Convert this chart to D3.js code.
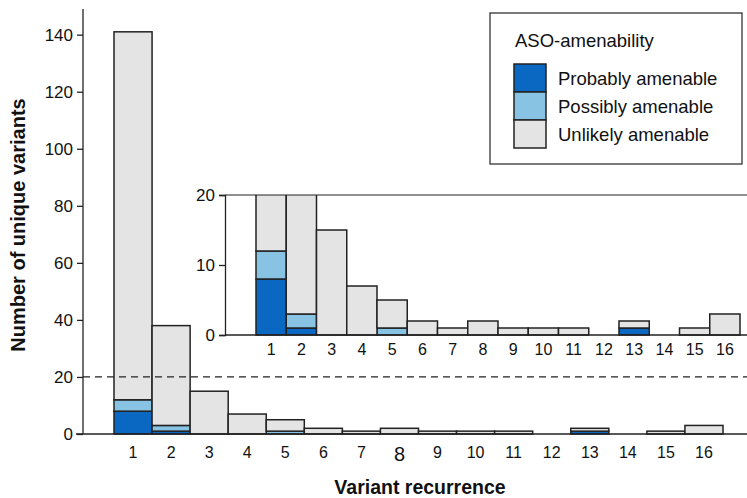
<!DOCTYPE html>
<html>
<head>
<meta charset="utf-8">
<script src="https://cdn.jsdelivr.net/npm/d3@7"></script>
<style>
  body { margin: 0; background: #fff; }
  svg { font-family: "Liberation Sans", Arial, sans-serif; }
</style>
</head>
<body>
<svg width="747" height="498"></svg>
<script>
const svg = d3.select("svg");

// data
const recurrence = d3.range(1, 17);
const probably = [8, 1, 0, 0, 0, 0, 0, 0, 0, 0, 0, 0, 1, 0, 0, 0];
const possibly = [4, 2, 0, 0, 1, 0, 0, 0, 0, 0, 0, 0, 0, 0, 0, 0];
const unlikely = [129, 35, 15, 7, 4, 2, 1, 2, 1, 1, 1, 0, 1, 0, 1, 3];
const mainTicks = [0, 20, 40, 60, 80, 100, 120, 140];
const insetTicks = [0, 10, 20];
const keys = ["probably", "possibly", "unlikely"];
const legendLabels = ["Probably amenable", "Possibly amenable", "Unlikely amenable"];

const color = d3.scaleOrdinal()
    .domain(keys)
    .range(["#0a68c2", "#88c3e3", "#e4e4e4"]);

const rows = recurrence.map((r, i) => ({
    r: r, probably: probably[i], possibly: possibly[i], unlikely: unlikely[i]
}));
const series = d3.stack().keys(keys)(rows);

// main chart
const x = d3.scaleBand().domain(recurrence).range([114, 723]).padding(0);
const y = d3.scaleLinear().domain([0, 149]).range([434, 9]);

const main = svg.append("g");
main.selectAll("g.layer")
    .data(series).enter().append("g")
    .attr("class", "layer")
    .attr("fill", d => color(d.key))
    .selectAll("rect")
    .data(d => d.filter(s => s[1] - s[0] > 0)).enter().append("rect")
    .attr("x", d => x(d.data.r))
    .attr("width", x.bandwidth())
    .attr("y", d => y(d[1]))
    .attr("height", d => y(d[0]) - y(d[1]))
    .attr("stroke", "#222")
    .attr("stroke-width", 1.5);

main.append("line")
    .attr("x1", 83).attr("x2", 747)
    .attr("y1", y(20)).attr("y2", y(20))
    .attr("stroke", "#222").attr("stroke-width", 1.3)
    .attr("stroke-dasharray", "7,5");

const yAxis = main.append("g")
    .attr("transform", "translate(83,0)")
    .call(d3.axisLeft(y).tickValues(mainTicks).tickSize(6).tickPadding(4));
yAxis.select(".domain").attr("d", `M0,${y(149)}V${y(0)}`);

const xAxis = main.append("g")
    .attr("transform", `translate(0,${y(0)})`)
    .call(d3.axisBottom(x).tickSize(0).tickPadding(13));
xAxis.select(".domain").attr("d", "M76,0H747");
xAxis.selectAll(".tick text").style("font-size", d => d === 8 ? "20px" : "16px");

// inset
const xi = d3.scaleBand().domain(recurrence).range([256, 740]).padding(0);
const yi = d3.scaleLinear().domain([0, 20]).range([335, 195]);

const inset = svg.append("g");
inset.append("clipPath").attr("id", "clip")
    .append("rect").attr("x", 225).attr("y", 195).attr("width", 522).attr("height", 145);

inset.append("rect")
    .attr("x", 226).attr("y", 195).attr("width", 521).attr("height", 140)
    .attr("fill", "#fff");

inset.append("g").attr("clip-path", "url(#clip)")
    .selectAll("g.layer")
    .data(series).enter().append("g")
    .attr("class", "layer")
    .attr("fill", d => color(d.key))
    .selectAll("rect")
    .data(d => d.filter(s => s[1] - s[0] > 0)).enter().append("rect")
    .attr("x", d => xi(d.data.r))
    .attr("width", xi.bandwidth())
    .attr("y", d => yi(Math.min(d[1], 21)))
    .attr("height", d => yi(d[0]) - yi(Math.min(d[1], 21)))
    .attr("stroke", "#222")
    .attr("stroke-width", 1.5);

const yiAxis = inset.append("g")
    .attr("transform", "translate(225,0)")
    .call(d3.axisLeft(yi).tickValues(insetTicks).tickSize(6).tickPadding(4));

inset.append("line")
    .attr("x1", 225).attr("x2", 747)
    .attr("y1", yi(20)).attr("y2", yi(20))
    .attr("stroke", "#222").attr("stroke-width", 1.2);

const xiAxis = inset.append("g")
    .attr("transform", `translate(0,${yi(0)})`)
    .call(d3.axisBottom(xi).tickSize(0).tickPadding(9));
xiAxis.select(".domain").attr("d", "M225,0H747");

svg.selectAll(".tick text").attr("fill", "#111");
yAxis.selectAll(".tick text").style("font-size", "17px");
yiAxis.selectAll(".tick text").style("font-size", "17px");
xiAxis.selectAll(".tick text").style("font-size", "16px");
svg.selectAll(".domain, .tick line").attr("stroke", "#222").attr("stroke-width", 1.3);

// axis titles
svg.append("text")
    .attr("transform", "translate(25,225) rotate(-90)")
    .attr("text-anchor", "middle")
    .attr("font-weight", "bold")
    .attr("font-size", 20)
    .attr("fill", "#111")
    .text("Number of unique variants");

svg.append("text")
    .attr("x", 420).attr("y", 494)
    .attr("text-anchor", "middle")
    .attr("font-weight", "bold")
    .attr("font-size", 19.5)
    .attr("fill", "#111")
    .text("Variant recurrence");

// legend
const legend = svg.append("g");
legend.append("rect")
    .attr("x", 490).attr("y", 13).attr("width", 252).attr("height", 151)
    .attr("fill", "#fff").attr("stroke", "#333").attr("stroke-width", 1.3);
legend.append("text")
    .attr("x", 515).attr("y", 47)
    .attr("font-size", 18.5).attr("fill", "#111")
    .text("ASO-amenability");
const item = legend.selectAll("g.item")
    .data(keys).enter().append("g")
    .attr("class", "item")
    .attr("transform", (d, i) => `translate(514,${64 + i * 28})`);
item.append("rect")
    .attr("width", 32).attr("height", 28)
    .attr("fill", d => color(d))
    .attr("stroke", "#222").attr("stroke-width", 1.5);
item.append("text")
    .attr("x", 44).attr("y", 21)
    .attr("font-size", 18.5).attr("fill", "#111")
    .text((d, i) => legendLabels[i]);
</script>
</body>
</html>
